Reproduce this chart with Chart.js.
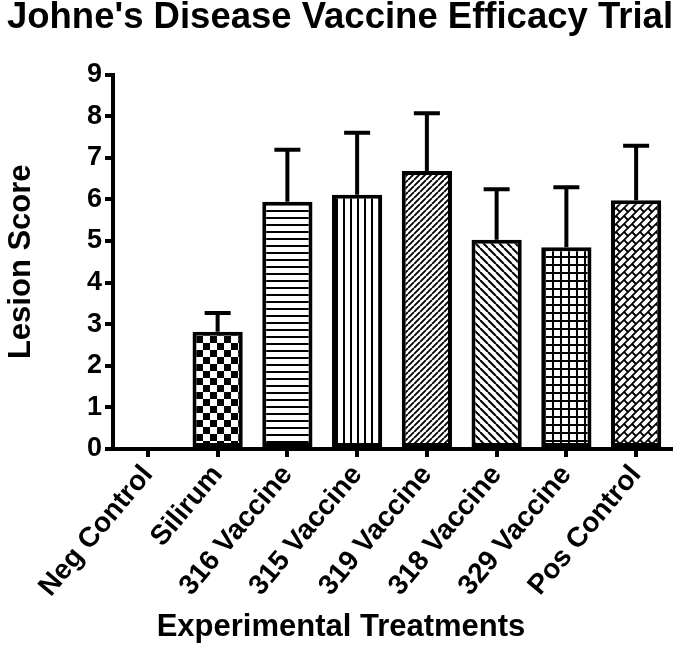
<!DOCTYPE html>
<html>
<head>
<meta charset="utf-8">
<script src="https://cdn.jsdelivr.net/npm/chart.js@4.4.1/dist/chart.umd.min.js"></script>
<style>
  html, body { margin: 0; padding: 0; background: #fff; }
  canvas { display: block; }
</style>
</head>
<body>
<canvas id="chart" width="680" height="650"></canvas>
<script>
// ---- Data ----
const categories = ['Neg Control', 'Silirum', '316 Vaccine', '315 Vaccine', '319 Vaccine', '318 Vaccine', '329 Vaccine', 'Pos Control'];
const lesionMeans = [0, 2.82, 5.94, 6.11, 6.68, 5.03, 4.85, 5.98];
const lesionErrors = [0, 0.45, 1.25, 1.49, 1.39, 1.21, 1.44, 1.31];
const yTickValues = [0, 1, 2, 3, 4, 5, 6, 7, 8, 9];
const chartTitle = "Johne's Disease Vaccine Efficacy Trial";
const xAxisTitle = 'Experimental Treatments';
const yAxisTitle = 'Lesion Score';

// ---- Styles ----
const patternKinds = ['none', 'checker', 'hlines', 'vlines', 'diagUp', 'diagDown', 'grid', 'brick'];
const FONT = "'Liberation Sans', Arial, sans-serif";

function makePattern(kind) {
  if (kind === 'none') return '#fff';
  const c = document.createElement('canvas');
  const g = c.getContext('2d');
  let S = 8;
  if (kind === 'checker') S = 14;
  if (kind === 'hlines' || kind === 'vlines') S = 7;
  if (kind === 'diagUp') S = 6;
  if (kind === 'diagDown') S = 8;
  if (kind === 'grid') S = 8;
  if (kind === 'brick') S = 16;
  c.width = S; c.height = S;
  g.fillStyle = '#fff';
  g.fillRect(0, 0, S, S);
  g.fillStyle = '#000';
  g.strokeStyle = '#000';
  if (kind === 'checker') {
    g.fillRect(0, 0, 7, 7);
    g.fillRect(7, 7, 7, 7);
  } else if (kind === 'hlines') {
    g.fillRect(0, 0, S, 2);
  } else if (kind === 'vlines') {
    g.fillRect(0, 0, 2, S);
  } else if (kind === 'grid') {
    g.fillRect(0, 0, S, 2);
    g.fillRect(0, 0, 2, S);
  } else if (kind === 'diagUp') {
    g.lineWidth = 1.8;
    g.beginPath();
    for (let o = -S; o <= S; o += S) { g.moveTo(o, S); g.lineTo(o + S, 0); }
    g.stroke();
  } else if (kind === 'diagDown') {
    g.lineWidth = 2;
    g.beginPath();
    for (let o = -S; o <= S; o += S) { g.moveTo(o, 0); g.lineTo(o + S, S); }
    g.stroke();
  } else if (kind === 'brick') {
    const d = 8;
    const P = (u, v) => [(u + v) / 2, (u - v) / 2];
    g.lineWidth = 1.8;
    g.beginPath();
    for (let n = -8; n <= 8; n++) {
      let a = P(n * d, -100), b = P(n * d, 100);
      g.moveTo(a[0], a[1]); g.lineTo(b[0], b[1]);
      for (let m = -8; m <= 8; m++) {
        const v = m * 2 * d + (Math.abs(n) % 2 === 1 ? d : 0);
        a = P(n * d, v); b = P((n + 1) * d, v);
        g.moveTo(a[0], a[1]); g.lineTo(b[0], b[1]);
      }
    }
    g.stroke();
  }
  return g.createPattern(c, 'repeat');
}

const fills = patternKinds.map(makePattern);

const errorBarPlugin = {
  id: 'errorBars',
  afterDatasetsDraw(chart) {
    const ctx = chart.ctx;
    const meta = chart.getDatasetMeta(0);
    const yScale = chart.scales.y;
    ctx.save();
    ctx.strokeStyle = '#000';
    ctx.lineWidth = 4;
    ctx.lineCap = 'butt';
    meta.data.forEach((bar, i) => {
      const err = lesionErrors[i];
      if (!err) return;
      const x = bar.x;
      const yTop = yScale.getPixelForValue(lesionMeans[i]);
      const yErr = yScale.getPixelForValue(lesionMeans[i] + err);
      ctx.beginPath();
      ctx.moveTo(x, yTop);
      ctx.lineTo(x, yErr);
      ctx.moveTo(x - 13, yErr);
      ctx.lineTo(x + 13, yErr);
      ctx.stroke();
    });
    ctx.restore();
  }
};

// x-axis title centred on the whole figure (as in the original)
const xTitlePlugin = {
  id: 'xTitle',
  afterDraw(chart) {
    const ctx = chart.ctx;
    ctx.save();
    ctx.fillStyle = '#000';
    ctx.font = 'bold 31px ' + FONT;
    ctx.textAlign = 'center';
    ctx.textBaseline = 'middle';
    ctx.fillText(xAxisTitle, chart.width / 2 + 1, 627);
    ctx.restore();
  }
};

new Chart(document.getElementById('chart'), {
  type: 'bar',
  data: {
    labels: categories,
    datasets: [{
      data: lesionMeans,
      backgroundColor: fills,
      borderColor: '#000',
      borderWidth: (c) => (lesionMeans[c.dataIndex] === 0 ? 0 : 4),
      borderSkipped: false,
      categoryPercentage: 0.8,
      barPercentage: 0.9
    }]
  },
  options: {
    responsive: false,
    animation: false,
    devicePixelRatio: 1,
    layout: { padding: 0 },
    plugins: {
      legend: { display: false },
      tooltip: { enabled: false },
      title: {
        display: true,
        text: chartTitle,
        color: '#000',
        font: { family: FONT, size: 36.5, weight: 'bold', lineHeight: 1 },
        padding: { top: 0, bottom: 38 }
      }
    },
    scales: {
      x: {
        grid: { offset: false, drawOnChartArea: false, drawTicks: true, tickLength: 8, lineWidth: 4, color: '#000' },
        border: { display: true, color: '#000', width: 4 },
        ticks: {
          color: '#000',
          font: { family: FONT, size: 28, weight: 'bold' },
          minRotation: 50, maxRotation: 50,
          autoSkip: false,
          padding: 2
        },
        title: { display: false },
        afterFit: (s) => { s.height = 201; }
      },
      y: {
        min: 0,
        max: 9,
        afterBuildTicks: (s) => { s.ticks = yTickValues.map(v => ({ value: v })); },
        grid: { drawOnChartArea: false, drawTicks: true, tickLength: 8, lineWidth: 4, color: '#000' },
        border: { display: true, color: '#000', width: 4 },
        ticks: {
          color: '#000',
          font: { family: FONT, size: 27, weight: 'bold' },
          padding: 3
        },
        title: {
          display: true,
          text: yAxisTitle,
          color: '#000',
          font: { family: FONT, size: 31, weight: 'bold', lineHeight: 1.2 },
          padding: { top: 3, bottom: 0 }
        },
        afterFit: (s) => { s.width = 113; }
      },
      yRight: {
        position: 'right',
        display: true,
        grid: { display: false, drawTicks: false },
        border: { display: false },
        ticks: { display: false },
        afterFit: (s) => { s.width = 9; }
      }
    }
  },
  plugins: [errorBarPlugin, xTitlePlugin]
});
</script>
</body>
</html>
